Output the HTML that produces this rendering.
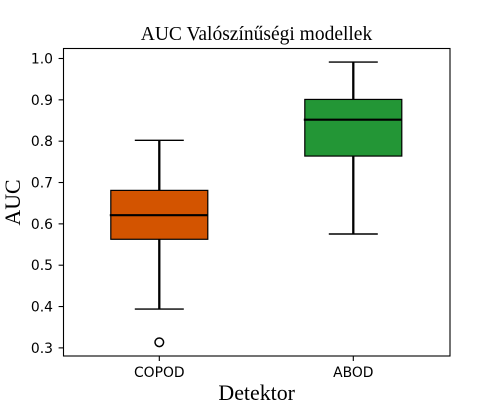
<!DOCTYPE html>
<html>
<head>
<meta charset="utf-8">
<style>
html,body{margin:0;padding:0;background:#fff;width:500px;height:400px;overflow:hidden}
svg{display:block}
text{fill:#000}
.tick{font-family:"DejaVu Sans",sans-serif;font-size:13.9px}
.serif{font-family:"Liberation Serif",serif}
</style>
</head>
<body>
<svg id="chart" width="500" height="400" viewBox="0 0 500 400"></svg>
<script>
const categories = ['COPOD', 'ABOD'];
const whiskerLow = [0.394, 0.5755];
const boxLow = [0.5627, 0.764];
const medians = [0.621, 0.852];
const boxHigh = [0.681, 0.901];
const whiskerHigh = [0.802, 0.9915];
const outliers = [[0.3135], []];
const boxColors = ['#d35400', '#239636'];
const yTicks = [0.3, 0.4, 0.5, 0.6, 0.7, 0.8, 0.9, 1.0];
const titleText = 'AUC Valószínűségi modellek';
const xLabelText = 'Detektor';
const yLabelText = 'AUC';

const NS = 'http://www.w3.org/2000/svg';
const svg = document.getElementById('chart');
const plot = {left: 63.5, right: 450, top: 48.5, bottom: 356};
const yScale = v => 58.5 + (1 - v) * 413.4;
const xScale = i => 159.3 + i * 194;
const boxHalf = 48.5, capHalf = 24.5;

function make(tag, attrs, parent) {
  const el = document.createElementNS(NS, tag);
  for (const k in attrs) el.setAttribute(k, attrs[k]);
  (parent || svg).appendChild(el);
  return el;
}
function line(x1, y1, x2, y2, w, parent) {
  return make('line', {x1, y1, x2, y2, stroke: '#000', 'stroke-width': w}, parent);
}

const yAxis = make('g', {});


yTicks.forEach(t => {
  const y = yScale(t);
  const m = line(58.6, y, plot.left, y, 1.1, yAxis);
  
  
  const lab = make('text', {x: 53, y: y + 5, 'text-anchor': 'end', class: 'tick'}, yAxis);
  lab.textContent = t.toFixed(1);
  
  
});

const xAxis = make('g', {});


categories.forEach((c, i) => {
  const x = xScale(i);
  const m = line(x, plot.bottom, x, plot.bottom + 5, 1.1, xAxis);
  
  
  const lab = make('text', {x, y: 377, 'text-anchor': 'middle', class: 'tick'}, xAxis);
  lab.textContent = c;
  
  
});

categories.forEach((c, i) => {
  const x = xScale(i);
  const g = make('g', {});
  
  

  const up = line(x, yScale(boxHigh[i]), x, yScale(whiskerHigh[i]), 2.3, g);
  
  
  const low = line(x, yScale(boxLow[i]), x, yScale(whiskerLow[i]), 2.3, g);
  
  
  const capU = line(x - capHalf, yScale(whiskerHigh[i]), x + capHalf, yScale(whiskerHigh[i]), 1.4, g);
  
  
  const capL = line(x - capHalf, yScale(whiskerLow[i]), x + capHalf, yScale(whiskerLow[i]), 1.4, g);
  
  

  const rect = make('rect', {
    x: x - boxHalf, y: yScale(boxHigh[i]), width: boxHalf * 2,
    height: yScale(boxLow[i]) - yScale(boxHigh[i]),
    fill: boxColors[i], stroke: '#000', 'stroke-width': 1.2
  }, g);
  
  

  const med = line(x - boxHalf - 1, yScale(medians[i]), x + boxHalf, yScale(medians[i]), 2.2, g);
  
  

  outliers[i].forEach(v => {
    const o = make('circle', {cx: x, cy: yScale(v), r: 4.3, fill: 'none', stroke: '#000', 'stroke-width': 1.5}, g);
    
    
  });
});

const frame = make('rect', {
  x: plot.left, y: plot.top, width: plot.right - plot.left, height: plot.bottom - plot.top,
  fill: 'none', stroke: '#000', 'stroke-width': 1.1
});



const title = make('text', {x: 256.5, y: 40, 'text-anchor': 'middle', class: 'serif', 'font-size': 19.5});
title.textContent = titleText;



const xl = make('text', {x: 256.7, y: 400, 'text-anchor': 'middle', class: 'serif', 'font-size': 21.9});
xl.textContent = xLabelText;



const yl = make('text', {x: 0, y: 0, 'text-anchor': 'middle', class: 'serif', 'font-size': 21.9, transform: 'translate(20 202.5) rotate(-90)'});
yl.textContent = yLabelText;


</script>
</body>
</html>
